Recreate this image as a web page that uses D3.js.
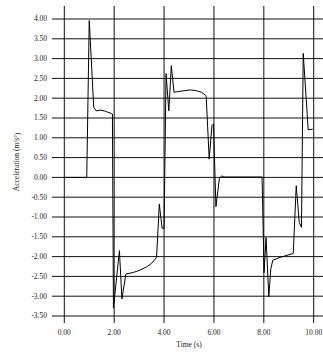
<html>
<head>
<meta charset="utf-8">
<script src="https://d3js.org/d3.v7.min.js"></script>
<style>
body { margin: 0; background: #fff; }
text { font-family: 'Liberation Serif', 'Times New Roman', serif; fill: #222; }
</style>
</head>
<body>
<div id="chart"></div>
<script>

var width = 323;
var height = 354;

// time (s) and acceleration (m/s2)
var times = [0, 0.90, 1.00, 1.18, 1.28, 1.45, 1.65, 1.90, 1.93, 1.97,
  2.21, 2.31, 2.47, 2.77, 3.00, 3.30, 3.50, 3.70, 3.81, 3.92, 4.00,
  4.08, 4.19, 4.29, 4.40, 4.60, 4.80, 5.05, 5.30, 5.50, 5.67, 5.69,
  5.81, 5.92, 5.98, 6.08, 6.22, 6.31, 6.40, 7.93, 8.01, 8.09, 8.20,
  8.28, 8.36, 8.65, 9.18, 9.30, 9.42, 9.51, 9.58, 9.78, 9.96];
var accel = [0, 0, 3.96, 1.77, 1.68, 1.70, 1.67, 1.61, 1.60, -3.30,
  -1.85, -3.07, -2.44, -2.40, -2.35, -2.26, -2.17, -2.02, -0.67, -1.28, -1.29,
  2.62, 1.68, 2.82, 2.15, 2.17, 2.19, 2.21, 2.19, 2.15, 2.07, 2.04,
  0.46, 1.31, 1.35, -0.74, -0.02, 0.04, 0.01, 0.01, -2.40, -1.52, -3.01,
  -2.31, -2.09, -2.02, -1.92, -0.21, -1.14, -1.26, 3.13, 1.20, 1.22];

var xTicks = [0, 2, 4, 6, 8, 10];
var yTicks = [4, 3.5, 3, 2.5, 2, 1.5, 1, 0.5, 0, -0.5, -1, -1.5, -2, -2.5, -3, -3.5];

var svg = d3.select("#chart")
  .append("svg")
  .attr("width", width)
  .attr("height", height);

var x = d3.scaleLinear().domain([0, 10]).range([64.3, 313.7]);
var y = d3.scaleLinear().domain([-3.5, 4]).range([316, 19]);

// plain hyphen for negatives, like the original
var fmt = d => d3.format(".2f")(d).replace("\u2212", "-");

// grid lines run past the plot on every side
svg.selectAll(".hgrid")
  .data(yTicks)
  .enter()
  .append("line")
  .attr("x1", 52)
  .attr("x2", 323)
  .attr("y1", d => y(d))
  .attr("y2", d => y(d))
  .style("stroke", "#111")
  .style("stroke-width", 1);

svg.selectAll(".vgrid")
  .data(xTicks)
  .enter()
  .append("line")
  .attr("x1", d => x(d))
  .attr("x2", d => x(d))
  .attr("y1", 6)
  .attr("y2", 323)
  .style("stroke", "#111")
  .style("stroke-width", 1);

// tick labels
svg.selectAll(".ylab")
  .data(yTicks)
  .enter()
  .append("text")
  .attr("x", 47)
  .attr("y", d => y(d))
  .attr("dy", "0.32em")
  .attr("text-anchor", "end")
  .style("font-size", "7.5px")
  .text(fmt);

svg.selectAll(".xlab")
  .data(xTicks)
  .enter()
  .append("text")
  .attr("x", d => x(d))
  .attr("y", 335)
  .attr("text-anchor", "middle")
  .style("font-size", "7.5px")
  .text(fmt);

// axis titles
svg.append("text")
  .attr("x", 189)
  .attr("y", 347)
  .attr("text-anchor", "middle")
  .style("font-size", "7.5px")
  .text("Time (s)");

var yTitle = svg.append("text")
  .attr("transform", "translate(19,162) rotate(-90)")
  .attr("text-anchor", "middle")
  .style("font-size", "7.5px");
yTitle.append("tspan").text("Acceleration (m/s");
yTitle.append("tspan").attr("dy", "-0.35em").style("font-size", "5px").text("2");
yTitle.append("tspan").attr("dy", "0.35em").text(")");

// the curve
var pts = times.map((t, i) => [t, accel[i]]);
var line = d3.line()
  .x(d => x(d[0]))
  .y(d => y(d[1]));

svg.append("path")
  .datum(pts)
  .attr("d", line)
  .style("fill", "none")
  .style("stroke", "#000")
  .style("stroke-width", 1);

</script>
</body>
</html>
